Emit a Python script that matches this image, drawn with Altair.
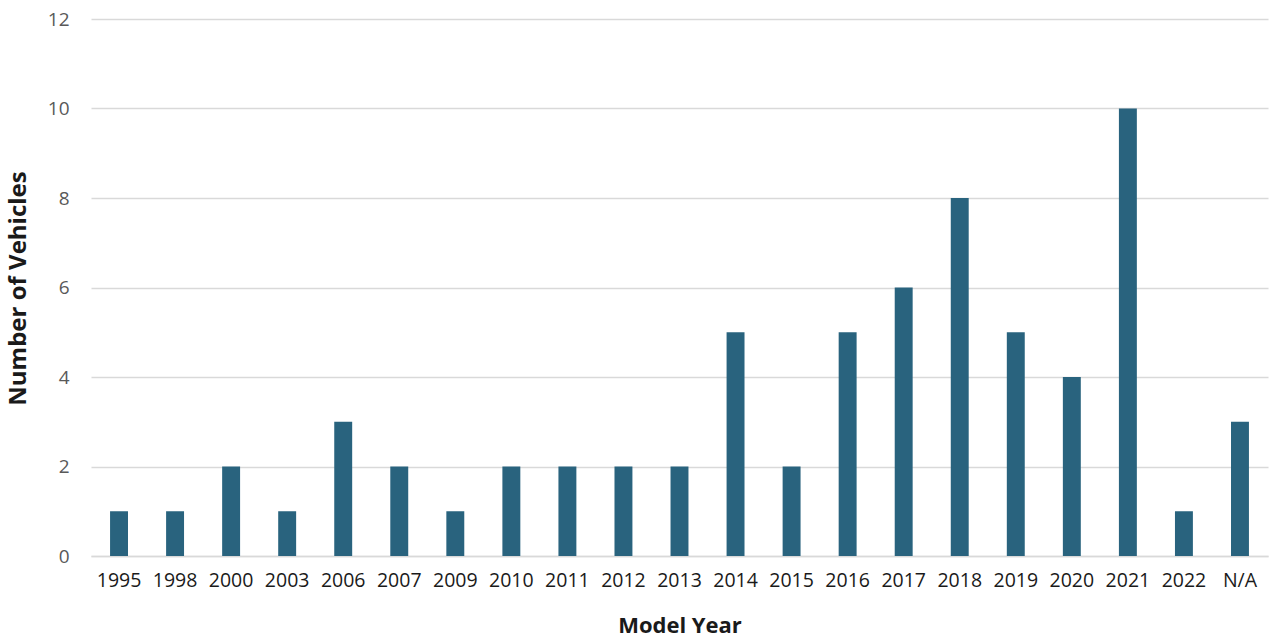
import altair as alt
import pandas as pd

years = ["1995", "1998", "2000", "2003", "2006", "2007", "2009", "2010", "2011", "2012",
         "2013", "2014", "2015", "2016", "2017", "2018", "2019", "2020", "2021", "2022", "N/A"]
counts = [1, 1, 2, 1, 3, 2, 1, 2, 2, 2, 2, 5, 2, 5, 6, 8, 5, 4, 10, 1, 3]

df = pd.DataFrame({"year": years, "count": counts})

FONT = "Open Sans"

chart = alt.Chart(df).mark_bar(color="#29637E").encode(
    x=alt.X("year:N", sort=years,
            scale=alt.Scale(paddingInner=0.68, paddingOuter=0.34),
            axis=alt.Axis(title="Model Year", labelAngle=0, labelFontSize=19.5,
                          labelColor="#1a1a1a", labelPadding=15, ticks=False,
                          domainColor="#D9D9D9", domainWidth=1.5, grid=False,
                          titleFontSize=22, titleFontWeight="bold", titleColor="#1a1a1a",
                          titlePadding=26, labelFont=FONT, titleFont=FONT)),
    y=alt.Y("count:Q", scale=alt.Scale(domain=[0, 12]),
            axis=alt.Axis(title="Number of Vehicles", values=[0, 2, 4, 6, 8, 10, 12],
                          labelFontSize=19, labelColor="#595959", labelPadding=22,
                          ticks=False, domain=False, gridColor="#D9D9D9", gridWidth=1.3,
                          titleFontSize=24, titleFontWeight="bold", titleColor="#1a1a1a",
                          titleX=-73, titleY=269, titleAngle=-90, titleAlign="center",
                          titleBaseline="middle", labelFont=FONT, titleFont=FONT)),
).properties(
    width=1177, height=537,
    autosize=alt.AutoSizeParams(type="none"),
    padding={"left": 91, "top": 19, "right": 9, "bottom": 88},
    background="white",
).configure_view(stroke=None, strokeWidth=0)

chart.save("out.html", embed_options={"renderer": "svg", "actions": False})
